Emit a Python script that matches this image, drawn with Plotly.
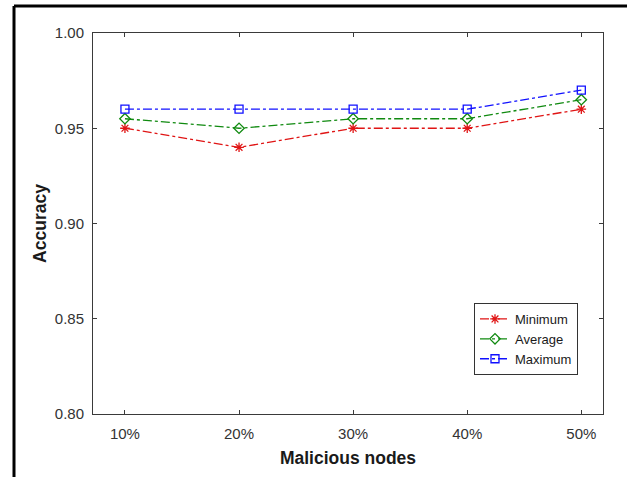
import plotly.graph_objects as go

categories = ["10%", "20%", "30%", "40%", "50%"]
minimum = [0.95, 0.94, 0.95, 0.95, 0.96]
average = [0.955, 0.95, 0.955, 0.955, 0.965]
maximum = [0.96, 0.96, 0.96, 0.96, 0.97]
y_ticks = [0.80, 0.85, 0.90, 0.95, 1.00]

xpos = list(range(1, len(categories) + 1))

fig = go.Figure()
series = [
    ("Minimum", minimum, "#e01515", "asterisk-open"),
    ("Average", average, "#108a10", "diamond-open"),
    ("Maximum", maximum, "#1010ff", "square-open"),
]
for name, vals, col, sym in series:
    fig.add_trace(go.Scatter(
        x=xpos, y=vals, name=name, mode="lines+markers",
        line=dict(color=col, width=1.3, dash="dashdot"),
        marker=dict(symbol=sym, size=8, color=col, line=dict(color=col, width=1.3)),
    ))

L, R, T, B = 93, 24, 33, 63
W, H = 627, 477
pw = W - L - R
ph = H - T - B

FONT = "Arial, Liberation Sans"
axis_common = dict(
    showline=True, linecolor="#3a3a3a", linewidth=1, mirror="ticks",
    ticks="inside", ticklen=4, tickcolor="#3a3a3a", showgrid=False, zeroline=False,
    tickfont=dict(family=FONT, size=15, color="#333333"),
)

fig.update_layout(
    width=W, height=H,
    margin=dict(l=L, r=R, t=T, b=B),
    paper_bgcolor="white", plot_bgcolor="white",
    xaxis=dict(
        range=[0.72, 5.19], tickvals=xpos, ticktext=categories,
        ticklabelstandoff=6,
        title=dict(text="<b>Malicious nodes</b>", standoff=10,
                   font=dict(family=FONT, size=17.5, color="#1a1a1a")),
        **axis_common,
    ),
    yaxis=dict(
        range=[0.80, 1.00], tickvals=y_ticks, tickformat=".2f",
        ticklabelstandoff=5,
        title=dict(text="<b>Accuracy</b>", standoff=3,
                   font=dict(family=FONT, size=17.5, color="#1a1a1a")),
        **axis_common,
    ),
    legend=dict(
        x=(578 - L) / pw, y=(H - B - 303) / ph, xanchor="right", yanchor="top",
        bordercolor="#333333", borderwidth=1, bgcolor="white",
        font=dict(family=FONT, size=13, color="#1a1a1a"),
        tracegroupgap=0, itemwidth=30,
    ),
    showlegend=True,
)

# outer frame lines (top and left) of the figure image
x_left = (14 - L) / pw
y_top = (H - B - 6) / ph
fig.add_shape(type="line", xref="paper", yref="paper",
              x0=x_left, x1=(W - L) / pw + 0.01, y0=y_top, y1=y_top,
              line=dict(color="black", width=3))
fig.add_shape(type="line", xref="paper", yref="paper",
              x0=x_left, x1=x_left, y0=y_top, y1=-B / ph - 0.01,
              line=dict(color="black", width=3))

fig.write_html("out.html")
